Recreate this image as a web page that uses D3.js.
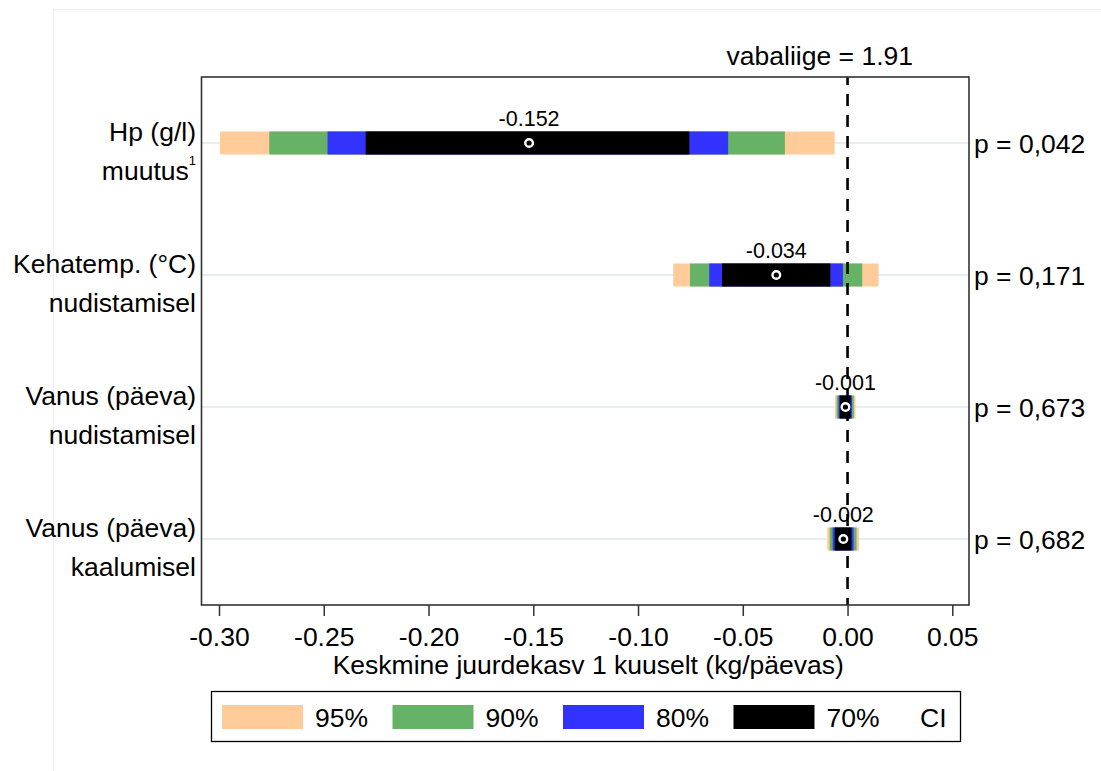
<!DOCTYPE html>
<html>
<head>
<meta charset="utf-8">
<script src="https://cdn.jsdelivr.net/npm/d3@7"></script>
<style>
  body { margin: 0; background: #fff; }
  text { font-family: "Liberation Sans", Arial, sans-serif; fill: #000; }
</style>
</head>
<body>
<script>
// rows, top to bottom
const labelTop = ["Hp (g/l)", "Kehatemp. (°C)", "Vanus (päeva)", "Vanus (päeva)"];
const labelBottom = ["muutus", "nudistamisel", "nudistamisel", "kaalumisel"];
const means = [-0.152, -0.034, -0.001, -0.002];
const pLabels = ["p = 0,042", "p = 0,171", "p = 0,673", "p = 0,682"];

// confidence intervals [lo, hi]
const ci95 = [[-0.2995, -0.0062], [-0.0832, 0.0148], [-0.0060, 0.0038], [-0.0097, 0.0055]];
const ci90 = [[-0.2760, -0.0299], [-0.0752, 0.0070], [-0.0052, 0.0030], [-0.0085, 0.0043]];
const ci80 = [[-0.2482, -0.0570], [-0.0660, -0.0022], [-0.0043, 0.0021], [-0.0071, 0.0029]];
const ci70 = [[-0.2300, -0.0755], [-0.0599, -0.0082], [-0.0037, 0.0015], [-0.0061, 0.0019]];

const ciNames = ["95%", "90%", "80%", "70%"];
const ciColors = ["#ffcc99", "#66b266", "#3333ff", "#000000"];
const xTicks = [-0.30, -0.25, -0.20, -0.15, -0.10, -0.05, 0.00, 0.05];
const intercept = 1.91;

const w = 1101;
const h = 771;
const box = { left: 201.5, right: 969, top: 77, bottom: 605 };
const barH = 23;
const fs = "26.5px";

const svg = d3.select("body")
  .append("svg")
  .attr("width", w)
  .attr("height", h);

// faint outer frame
svg.append("rect")
  .attr("x", 53.5).attr("y", 9.5)
  .attr("width", w).attr("height", h)
  .attr("fill", "none")
  .attr("stroke", "#eeeeee")
  .attr("stroke-width", 1);

const x = d3.scaleLinear()
  .domain([-0.30, 0.05])
  .range([219, 952.3]);

const y = d3.scaleBand()
  .domain(d3.range(means.length))
  .range([box.top, box.bottom]);

const yc = (i) => y(i) + y.bandwidth() / 2;

// grid lines
svg.selectAll("line.grid")
  .data(means)
  .join("line")
  .attr("class", "grid")
  .attr("x1", box.left).attr("x2", box.right)
  .attr("y1", (d, i) => yc(i)).attr("y2", (d, i) => yc(i))
  .attr("stroke", "#e6eef0")
  .attr("stroke-width", 2);

// CI bars, widest first
const layers = [ci95, ci90, ci80, ci70];
layers.forEach((ci, k) => {
  svg.append("g")
    .selectAll("rect")
    .data(ci)
    .join("rect")
    .attr("x", (d) => x(d[0]))
    .attr("width", (d) => x(d[1]) - x(d[0]))
    .attr("y", (d, i) => yc(i) - barH / 2)
    .attr("height", barH)
    .attr("fill", ciColors[k]);
});

// zero line
svg.append("line")
  .attr("x1", x(0)).attr("x2", x(0))
  .attr("y1", box.top).attr("y2", box.bottom)
  .attr("stroke", "#000")
  .attr("stroke-width", 2.6)
  .attr("stroke-dasharray", "12,9")
  .attr("stroke-dashoffset", 4);

// mean markers
svg.selectAll("circle.mean")
  .data(means)
  .join("circle")
  .attr("class", "mean")
  .attr("cx", (d) => x(d))
  .attr("cy", (d, i) => yc(i))
  .attr("r", 3.8)
  .attr("fill", "none")
  .attr("stroke", "#fff")
  .attr("stroke-width", 2.4);

// mean labels
svg.selectAll("text.meanlab")
  .data(means)
  .join("text")
  .attr("class", "meanlab")
  .attr("x", (d) => x(d))
  .attr("y", (d, i) => yc(i) - 17)
  .attr("text-anchor", "middle")
  .style("font-size", "21.5px")
  .text((d) => d.toFixed(3));

// plot box
svg.append("rect")
  .attr("x", box.left).attr("y", box.top)
  .attr("width", box.right - box.left)
  .attr("height", box.bottom - box.top)
  .attr("fill", "none")
  .attr("stroke", "#333")
  .attr("stroke-width", 1.6);

// x axis
const xAxis = svg.append("g")
  .attr("transform", `translate(0,${box.bottom})`)
  .call(d3.axisBottom(x)
    .tickValues(xTicks)
    .tickSize(11)
    .tickPadding(6)
    .tickFormat((d) => d.toFixed(2)));
xAxis.select(".domain").remove();
xAxis.selectAll(".tick line").attr("stroke", "#333").attr("stroke-width", 1.5);
xAxis.selectAll(".tick text")
  .attr("fill", "#000")
  .attr("dy", null)
  .attr("y", 41)
  .style("font-size", fs)
  .style("font-family", '"Liberation Sans", Arial, sans-serif');

svg.append("text")
  .attr("x", (box.left + box.right) / 2 + 3)
  .attr("y", 674)
  .attr("text-anchor", "middle")
  .style("font-size", fs)
  .text("Keskmine juurdekasv 1 kuuselt (kg/päevas)");

// intercept note
svg.append("text")
  .attr("x", 913)
  .attr("y", 65)
  .attr("text-anchor", "end")
  .style("font-size", fs)
  .text("vabaliige = " + intercept);

// y labels
svg.selectAll("text.ylab1")
  .data(labelTop)
  .join("text")
  .attr("class", "ylab1")
  .attr("x", 196)
  .attr("y", (d, i) => yc(i) - 2)
  .attr("text-anchor", "end")
  .style("font-size", fs)
  .text((d) => d);

const yl2 = svg.selectAll("text.ylab2")
  .data(labelBottom)
  .join("text")
  .attr("class", "ylab2")
  .attr("x", 196)
  .attr("y", (d, i) => yc(i) + 36.5)
  .attr("text-anchor", "end")
  .style("font-size", fs);
yl2.append("tspan").text((d) => d);
yl2.filter((d, i) => i === 0)
  .append("tspan")
  .attr("dy", -15)
  .style("font-size", "13px")
  .text("1");

// p values
svg.selectAll("text.pval")
  .data(pLabels)
  .join("text")
  .attr("class", "pval")
  .attr("x", 974)
  .attr("y", (d, i) => yc(i) + 10)
  .style("font-size", fs)
  .text((d) => d);

// legend
const lg = svg.append("g");
lg.append("rect")
  .attr("x", 211.5).attr("y", 691.5)
  .attr("width", 749).attr("height", 50)
  .attr("fill", "none")
  .attr("stroke", "#000")
  .attr("stroke-width", 1.3);

const swX = d3.scaleLinear().domain([0, 1]).range([222, 392.5]);
lg.selectAll("rect.sw")
  .data(ciNames)
  .join("rect")
  .attr("class", "sw")
  .attr("x", (d, i) => swX(i))
  .attr("y", 705)
  .attr("width", 81)
  .attr("height", 24)
  .attr("fill", (d, i) => ciColors[i]);
lg.selectAll("text.lt")
  .data(ciNames)
  .join("text")
  .attr("class", "lt")
  .attr("x", (d, i) => swX(i) + 93)
  .attr("y", 727)
  .style("font-size", fs)
  .text((d) => d);
lg.append("text")
  .attr("x", 920)
  .attr("y", 727)
  .style("font-size", fs)
  .text("CI");
</script>
</body>
</html>
